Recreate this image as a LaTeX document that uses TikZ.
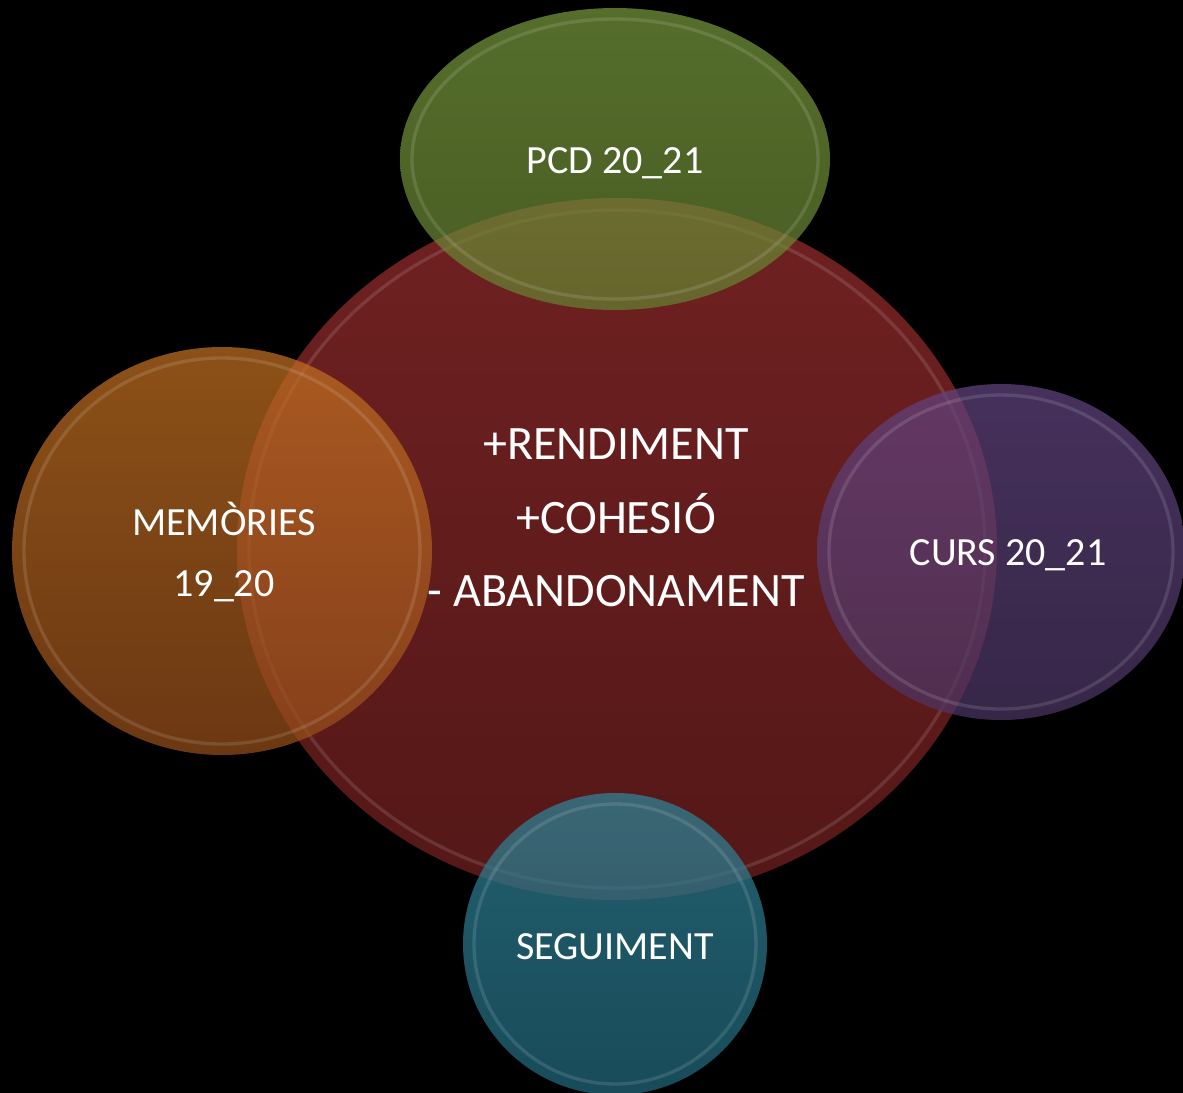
\documentclass[tikz,border=0pt]{standalone}
\usepackage{fontspec}
\setmainfont{Carlito}
\usetikzlibrary{shapes.geometric}
\definecolor{redT}{RGB}{112,33,33}
\definecolor{redB}{RGB}{84,23,23}
\definecolor{grnT}{RGB}{119,153,61}
\definecolor{grnB}{RGB}{101,129,50}
\definecolor{orgT}{RGB}{195,113,34}
\definecolor{orgB}{RGB}{150,78,27}
\definecolor{purT}{RGB}{98,68,128}
\definecolor{purB}{RGB}{76,54,100}
\definecolor{tealT}{RGB}{47,133,153}
\definecolor{tealB}{RGB}{35,105,125}
\tikzset{
  blob/.style={ellipse, inner sep=0pt, draw=none},
  glass/.style={blob, fill opacity=0.72},
  rim/.style={draw=white, draw opacity=0.12, line width=2.5pt, fill=none},
  lbl/.style={text=white, align=center, font=\fontsize{30}{46}\selectfont},
  biglbl/.style={text=white, align=center, font=\fontsize{36}{55}\selectfont}
}
\begin{document}
\begin{tikzpicture}[x=0.75pt,y=-0.75pt]
\fill[black] (0,0) rectangle (1183,1093);
\useasboundingbox (0,0) rectangle (1183,1093);
% central circle
\node[blob, minimum width=760*0.75pt, minimum height=702*0.75pt, top color=redT, bottom color=redB] (red) at (617,549) {};
\draw[rim] (red.center) ellipse [x radius=368, y radius=339];
\node[biglbl] (redtext) at (616,518) {+RENDIMENT\\+COHESIÓ\\- ABANDONAMENT};
% top green
\node[glass, minimum width=430*0.75pt, minimum height=302*0.75pt, top color=grnT, bottom color=grnB] (green) at (615,159) {};
\draw[rim] (green.center) ellipse [x radius=203, y radius=140];
\node[lbl] (greentext) at (615,163) {PCD 20\_21};
% left orange
\node[glass, minimum width=420*0.75pt, minimum height=408*0.75pt, top color=orgT, bottom color=orgB] (orange) at (222,551) {};
\draw[rim] (orange.center) ellipse [x radius=198, y radius=193];
\node[lbl] (orangetext) at (224,552) {MEMÒRIES\\19\_20};
% right purple
\node[glass, minimum width=368*0.75pt, minimum height=336*0.75pt, top color=purT, bottom color=purB] (purple) at (1001,552) {};
\draw[rim] (purple.center) ellipse [x radius=172, y radius=157];
\node[lbl] (purpletext) at (1008,555) {CURS 20\_21};
% bottom teal
\node[glass, minimum width=304*0.75pt, minimum height=302*0.75pt, top color=tealT, bottom color=tealB] (teal) at (615,944) {};
\draw[rim] (teal.center) ellipse [x radius=141, y radius=140];
\node[lbl] (tealtext) at (615,947) {SEGUIMENT};
\end{tikzpicture}
\end{document}
